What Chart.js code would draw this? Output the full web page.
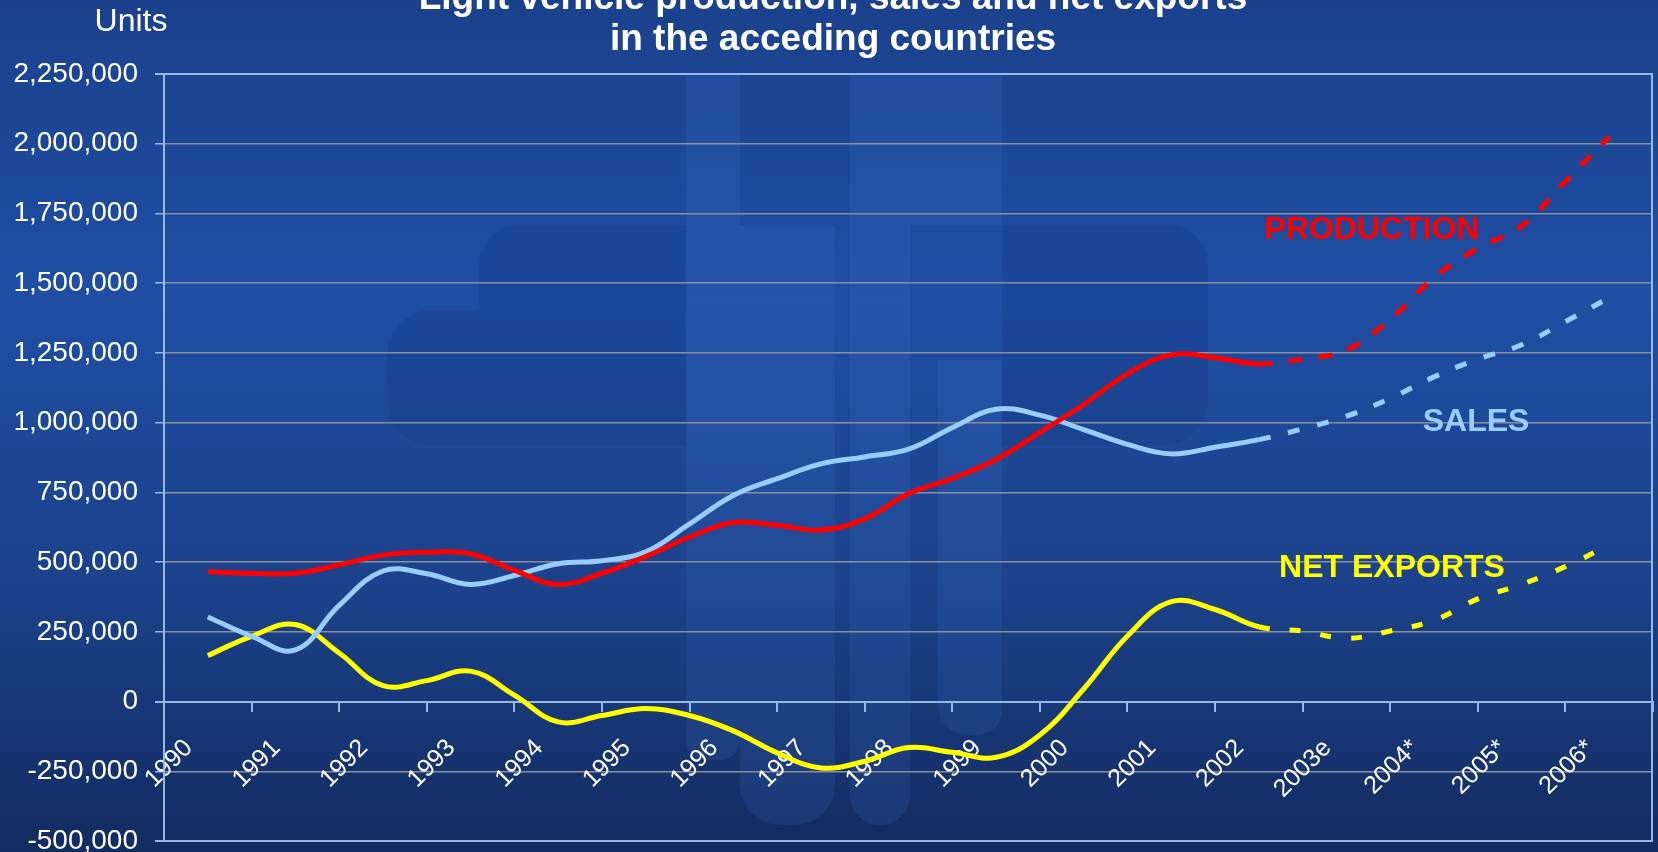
<!DOCTYPE html>
<html>
<head>
<meta charset="utf-8">
<script src="https://cdn.jsdelivr.net/npm/chart.js@4.4.1/dist/chart.umd.min.js"></script>
<style>
  html, body { margin: 0; padding: 0; background: #1a3f88; overflow: hidden; }
  canvas { display: block; }
</style>
</head>
<body>
<canvas id="chart" width="1658" height="852"></canvas>
<script>
// category labels on the x axis
const years = [1990, 1991, 1992, 1993, 1994, 1995, 1996, 1997, 1998, 1999, 2000, 2001, 2002, 2003, 2004, 2005, 2006];
const yearLabels = ['1990', '1991', '1992', '1993', '1994', '1995', '1996', '1997', '1998', '1999', '2000', '2001', '2002', '2003e', '2004*', '2005*', '2006*'];

// half-year points
const halfYears = [1990, 1990.5, 1991, 1991.5, 1992, 1992.5, 1993, 1993.5, 1994, 1994.5, 1995, 1995.5,
  1996, 1996.5, 1997, 1997.5, 1998, 1998.5, 1999, 1999.5, 2000, 2000.5, 2001, 2001.5,
  2002, 2002.5, 2003, 2003.5, 2004, 2004.5, 2005, 2005.5, 2006];

const production = [465000, 460000, 460000, 490000, 525000, 535000, 530000, 470000, 420000, 460000, 520000, 590000,
  642000, 632000, 615000, 655000, 745000, 800000, 868000, 965000, 1065000, 1175000, 1243000, 1233000,
  1210000, 1228000, 1260000, 1370000, 1520000, 1625000, 1705000, 1865000, 2025000];

const sales = [303000, 234000, 185000, 345000, 468000, 458000, 420000, 452000, 494000, 505000, 537000, 637000,
  739000, 799000, 852000, 877000, 905000, 982000, 1048000, 1027000, 975000, 922000, 888000, 912000,
  939000, 978000, 1023000, 1087000, 1164000, 1228000, 1279000, 1362000, 1448000];

const netExports = [165000, 234000, 276000, 174000, 57000, 75000, 109000, 23000, -73000, -50000, -25000, -50000,
  -105000, -184000, -238000, -214000, -165000, -182000, -200000, -120000, 45000, 235000, 358000, 330000,
  268000, 253000, 227000, 253000, 291000, 368000, 420000, 484000, 561000];

const forecastFrom = 2002; // dashed after this

const FONT = "'Liberation Sans', Arial, Helvetica, sans-serif";
const axisBlue = '#95b9e2';
const gridGray = '#8a8f9a';

// series names written next to the lines (position in data units)
const seriesLabels = [
  { text: 'PRODUCTION', x: 2003.29, y: 1690000, color: '#ff0000' },
  { text: 'SALES', x: 2004.48, y: 1000000, color: '#99ccff' },
  { text: 'NET EXPORTS', x: 2003.52, y: 478000, color: '#ffff00' }
];

function pts(vals) {
  return vals.map((v, i) => ({ x: halfYears[i], y: v }));
}

function makeSet(label, vals, color, dash) {
  return {
    label: label,
    data: pts(vals),
    borderColor: color,
    borderWidth: 5,
    pointRadius: 0,
    tension: 0.4,
    fill: false,
    segment: {
      borderDash: ctx => ctx.p0.parsed.x >= forecastFrom ? dash : undefined
    }
  };
}

// background gradient + faint logo
const backdrop = {
  id: 'backdrop',
  beforeDraw(chart) {
    const c = chart.ctx, w = chart.width, h = chart.height;
    c.save();
    const g = c.createLinearGradient(0, 0, 0, h);
    g.addColorStop(0, '#1b418c');
    g.addColorStop(0.35, '#1f4ea3');
    g.addColorStop(0.7, '#1b4189');
    g.addColorStop(1, '#132b60');
    c.fillStyle = g;
    c.fillRect(0, 0, w, h);

    function rr(x1, y1, x2, y2, r, fill) {
      c.fillStyle = fill;
      c.beginPath();
      c.roundRect(x1, y1, x2 - x1, y2 - y1, r);
      c.fill();
    }
    const light = 'rgba(80,140,230,0.12)';
    const dark = 'rgba(10,30,90,0.11)';
    rr(479, 225, 686, 310, [40, 0, 0, 0], dark);
    rr(1002, 225, 1208, 310, [0, 40, 0, 0], dark);
    rr(387, 310, 686, 445, [45, 0, 0, 45], dark);
    rr(1002, 310, 1208, 445, [0, 0, 45, 0], dark);
    rr(686, 75, 740, 760, [0, 0, 20, 20], light);
    rr(740, 225, 835, 825, [0, 0, 40, 40], light);
    rr(850, 75, 910, 825, [0, 0, 30, 30], light);
    rr(910, 75, 1002, 225, 0, light);
    rr(938, 360, 1002, 735, [0, 0, 25, 30], light);
    c.restore();
  },
  afterDraw(chart) {
    const c = chart.ctx, a = chart.chartArea;
    c.save();
    // right edge of the plot frame
    c.strokeStyle = axisBlue;
    c.lineWidth = 2;
    c.beginPath();
    c.moveTo(a.right - 1, a.top);
    c.lineTo(a.right - 1, a.bottom);
    c.stroke();

    c.fillStyle = '#ffffff';
    c.textAlign = 'center';
    c.textBaseline = 'alphabetic';
    c.font = 'bold 37px ' + FONT;
    c.fillText('Light vehicle production, sales and net exports', 833, 9);
    c.fillText('in the acceding countries', 833, 50);
    c.font = '32px ' + FONT;
    c.fillText('Units', 131, 31);
    c.restore();
  }
};

const seriesNames = {
  id: 'seriesNames',
  afterDatasetsDraw(chart) {
    const c = chart.ctx, sx = chart.scales.x, sy = chart.scales.y;
    c.save();
    c.font = 'bold 32px ' + FONT;
    c.textAlign = 'center';
    c.textBaseline = 'middle';
    seriesLabels.forEach(l => {
      c.fillStyle = l.color;
      c.fillText(l.text, sx.getPixelForValue(l.x), sy.getPixelForValue(l.y));
    });
    c.restore();
  }
};

new Chart(document.getElementById('chart'), {
  type: 'line',
  data: {
    datasets: [
      makeSet('Production', production, '#ff0000', [14, 16]),
      makeSet('Sales', sales, '#99ccff', [12, 18]),
      makeSet('Net exports', netExports, '#ffff00', [11, 20])
    ]
  },
  options: {
    responsive: false,
    animation: false,
    layout: { padding: { left: 0, top: 74, right: 5, bottom: 11 } },
    plugins: {
      legend: { display: false },
      tooltip: { enabled: false },
      title: { display: false }
    },
    scales: {
      x: {
        type: 'linear',
        position: { y: 0 },
        min: 1989.5,
        max: 2006.5,
        afterBuildTicks(scale) {
          scale.ticks = years.map(v => ({ value: v }));
        },
        ticks: {
          autoSkip: false,
          minRotation: 45,
          maxRotation: 45,
          labelOffset: -19,
          padding: 23,
          color: '#ffffff',
          font: { family: FONT, size: 25 },
          callback: (v, i) => yearLabels[i]
        },
        grid: {
          offset: true,
          drawOnChartArea: false,
          drawTicks: true,
          tickLength: 9,
          tickColor: axisBlue,
          lineWidth: 2
        },
        border: { display: true, color: axisBlue, width: 2 }
      },
      y: {
        min: -500000,
        max: 2250000,
        afterFit(scale) {
          scale.width = 164;
          scale.paddingTop = 0;
          scale.paddingBottom = 0;
        },
        ticks: {
          stepSize: 250000,
          padding: 17,
          color: '#ffffff',
          font: { family: FONT, size: 28 },
          callback: v => v.toLocaleString('en-US')
        },
        grid: {
          color: ctx => (ctx.tick && (ctx.tick.value === 2250000 || ctx.tick.value === -500000 || ctx.tick.value === 0)) ? axisBlue : gridGray,
          lineWidth: ctx => (ctx.tick && (ctx.tick.value === 2250000 || ctx.tick.value === -500000 || ctx.tick.value === 0)) ? 2 : 1.5,
          tickColor: axisBlue,
          tickLength: 9,
          drawTicks: true
        },
        border: { display: true, color: axisBlue, width: 2 }
      }
    }
  },
  plugins: [backdrop, seriesNames]
});
</script>
</body>
</html>
